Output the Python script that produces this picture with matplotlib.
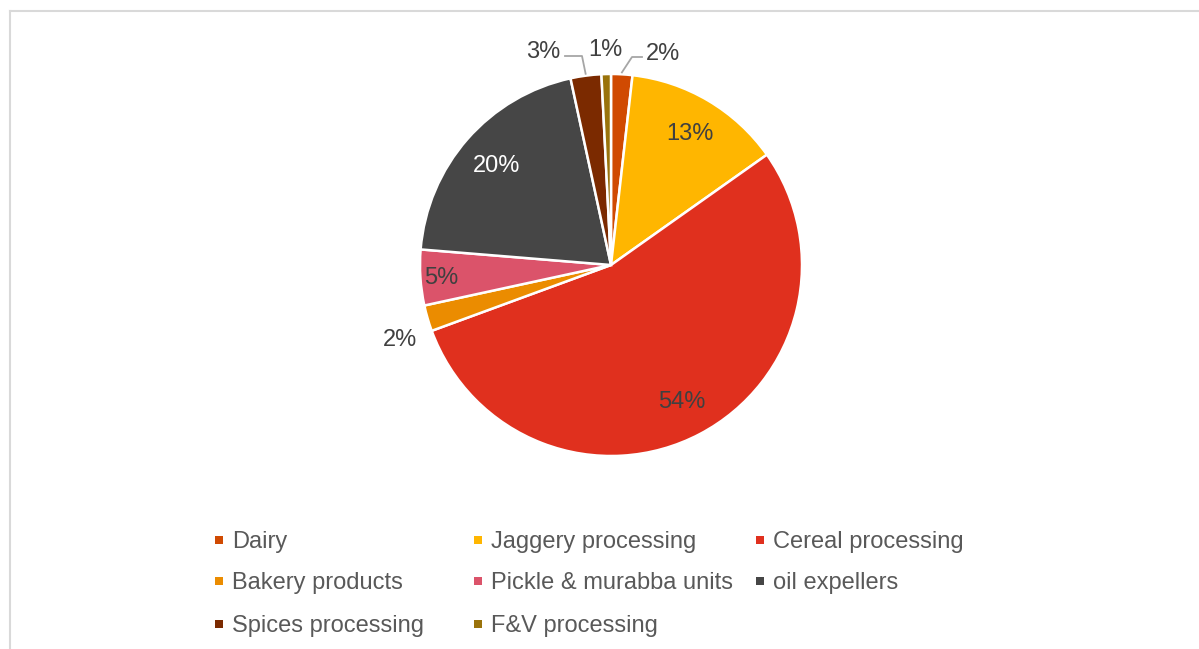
import numpy as np
import matplotlib.pyplot as plt
from matplotlib.patches import Rectangle
from matplotlib.lines import Line2D

plt.rcParams['font.family'] = ['Liberation Sans', 'DejaVu Sans']

# share of units by processing type (%)
categories = ['Dairy', 'Jaggery processing', 'Cereal processing',
              'Bakery products', 'Pickle & murabba units', 'oil expellers',
              'Spices processing', 'F&V processing']
shares = [1.8, 13.4, 54.2, 2.2, 4.7, 20.3, 2.6, 0.8]
labels = ['2%', '13%', '54%', '2%', '5%', '20%', '3%', '1%']
colors = ['#D04A02', '#FFB600', '#E0301E', '#EB8C00', '#DB536A', '#464646',
          '#7B2A00', '#9A730B']

W, H = 1199, 649
fig = plt.figure(figsize=(W / 100, H / 100), dpi=100)

# outer frame (top and left edges visible)
fig.add_artist(Line2D([10 / W, 1], [1 - 11 / H, 1 - 11 / H], color='#D9D9D9', lw=1.5))
fig.add_artist(Line2D([10 / W, 10 / W], [0, 1 - 11 / H], color='#D9D9D9', lw=1.5))

cx, cy, r = 611, 265, 191
ax = fig.add_axes([(cx - r) / W, (H - cy - r) / H, 2 * r / W, 2 * r / H])
wedges, _ = ax.pie(shares, colors=colors, startangle=90, counterclock=False,
                   radius=1.0, wedgeprops=dict(edgecolor='white', linewidth=1.8))
ax.set_xlim(-1, 1)
ax.set_ylim(-1, 1)
ax.set_aspect('equal')
ax.axis('off')

lab_col = '#404040'
line_col = '#A6A6A6'
fs = 17
dy = 2 / r   # nudge text so the digits sit centred

def mid_point(w, rr):
    a = np.deg2rad((w.theta1 + w.theta2) / 2)
    return rr * np.cos(a), rr * np.sin(a)

# labels inside the larger slices
inside = {1: 0.81, 2: 0.80, 4: 0.89, 5: 0.80}
for i, rr in inside.items():
    x, y = mid_point(wedges[i], rr)
    c = 'white' if i == 5 else lab_col
    ax.text(x, y - dy, labels[i], ha='center', va='center', fontsize=fs, color=c)

# labels outside the thin slices
def px(p):
    return ((p[0] - cx) / r, (cy - p[1]) / r)

outside = {
    0: dict(text=(663, 52), path=[(632, 57), (642, 57)]),
    6: dict(text=(543, 50), path=[(582, 56), (565, 56)]),
    7: dict(text=(605, 48), path=None),
    3: dict(text=(400, 338), path=None),
}
for i, o in outside.items():
    tx, ty = px(o['text'])
    ax.text(tx, ty - dy, labels[i], ha='center', va='center', fontsize=fs,
            color=lab_col, clip_on=False)
    if o['path']:
        sx, sy = mid_point(wedges[i], 1.01)
        pts = [(sx, sy)] + [px(p) for p in o['path']]
        xs, ys = zip(*pts)
        ax.plot(xs, ys, color=line_col, lw=1.3, clip_on=False)

# legend, three columns
col_x = [219, 478, 760]
row_y = [540, 581, 624]
for k, (name, c) in enumerate(zip(categories, colors)):
    mx, my = col_x[k % 3], row_y[k // 3]
    fig.add_artist(Rectangle(((mx - 4) / W, (H - my - 4) / H), 8 / W, 8 / H,
                             facecolor=c, edgecolor='none'))
    fig.text((mx + 13) / W, (H - my - 2) / H, name, ha='left', va='center',
             fontsize=fs, color='#595959')

fig.savefig('out.png', dpi=100)
